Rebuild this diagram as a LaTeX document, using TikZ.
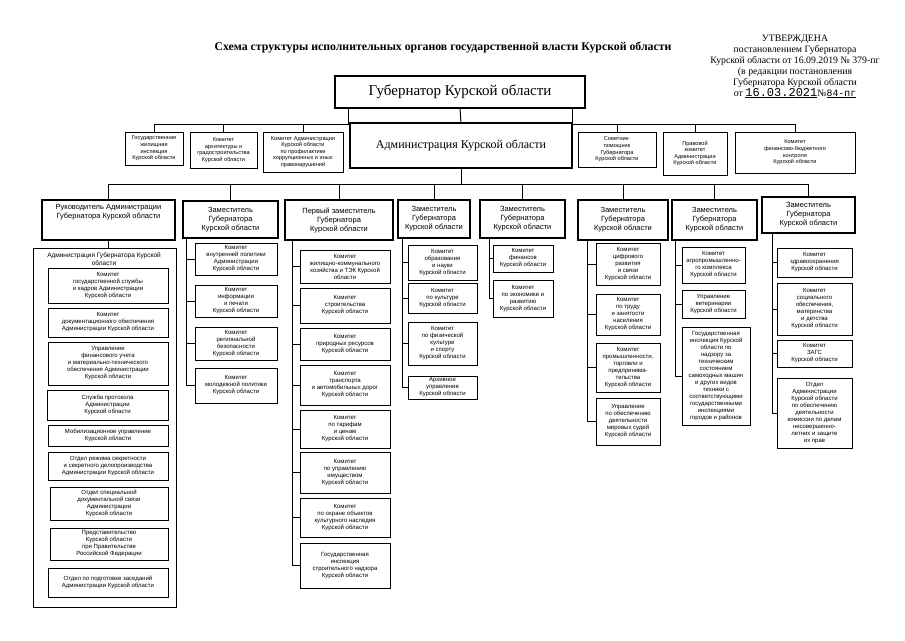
\documentclass[tikz,border=0pt]{standalone}
\usepackage{fontspec}
\setmainfont{Liberation Serif}
\setsansfont{Liberation Sans}
\setmonofont{Liberation Mono}
\tikzset{
  sbox/.style={draw, line width=1pt, align=center, inner sep=1pt,
    font=\sffamily\fontsize{6}{7}\selectfont},
  tbox/.style={draw, line width=1pt, align=center, inner sep=1pt,
    font=\sffamily\fontsize{5.6}{6.6}\selectfont},
  hbox/.style={draw, line width=1.1pt, align=center, inner sep=1pt,
    font=\sffamily\fontsize{7.5}{9}\selectfont},
  bigbox/.style={draw, line width=1.2pt, align=center, inner sep=1pt},
  outbox/.style={draw, line width=1pt},
  conn/.style={line width=1pt},
}
\newcommand\obox[7][sbox]{\node[#1, minimum width={(#5-#3)*1pt}, minimum height={(#6-#4)*1pt}] (#2) at ({(#3+#5)/2},{(#4+#6)/2}) {#7};}
\begin{document}
\begin{tikzpicture}[x=1pt,y=-1pt]
\useasboundingbox[fill=white] (0,0) rectangle (905,640);
% title and stamp
\node[font=\bfseries\fontsize{11.8}{13}\selectfont] (title) at (443,48) {Схема структуры исполнительных органов государственной власти Курской области};
\node[font=\fontsize{9.8}{11}\selectfont, align=center, anchor=north] (stamp) at (795,31) {УТВЕРЖДЕНА\\постановлением Губернатора\\Курской области от 16.09.2019 № 379-пг\\(в редакции постановления\\Губернатора Курской области\\от \underline{\ttfamily\fontsize{12}{12}\selectfont 16.03.2021}№\underline{\ttfamily 84-пг}};
% governor and administration
\obox[bigbox]{gov}{335}{76}{585}{108}{\fontsize{15}{17}\selectfont Губернатор Курской области}
\obox[bigbox]{adm}{350}{123}{572}{168}{\fontsize{12}{14}\selectfont Администрация Курской области}
% top small boxes
\obox[tbox]{a1}{125}{132}{183}{165}{Государственная\\жилищная\\инспекция\\Курской области}
\obox[tbox]{a2}{190}{132}{257}{168}{Комитет\\архитектуры и\\градостроительства\\Курской области}
\obox[tbox]{a3}{263}{132}{343}{172}{Комитет Администрации\\Курской области\\по профилактике\\коррупционных и иных\\правонарушений}
\obox[tbox]{b1}{578}{132}{656}{167}{Советник-\\помощник\\Губернатора\\Курской области}
\obox[tbox]{b2}{663}{132}{727}{175}{Правовой\\комитет\\Администрации\\Курской области}
\obox[tbox]{b3}{735}{132}{855}{173}{Комитет\\финансово-бюджетного\\контроля\\Курской области}
\coordinate (busL) at (348,124);
\coordinate (busR) at (572,124);
\draw[conn] (gov.south -| busL) -- (busL) -- (busL -| a1.north) -- (a1.north);
\draw[conn] (busL -| a2.north) -- (a2.north);
\draw[conn] (busL -| a3.north) -- (a3.north);
\draw[conn] (gov.south -| busR) -- (busR) -- (busR -| b3.north) -- (b3.north);
\draw[conn] (busR -| b1.north) -- (b1.north);
\draw[conn] (busR -| b2.north) -- (b2.north);
\draw[conn] (gov.south) -- (adm.north);
% deputies
\obox[hbox]{h1}{42}{200}{175}{240}{Руководитель Администрации\\Губернатора Курской области\\[9pt]}
\obox[hbox]{h2}{183}{201}{278}{238}{Заместитель\\Губернатора\\Курской области}
\obox[hbox]{h3}{285}{200}{393}{240}{Первый заместитель\\Губернатора\\Курской области}
\obox[hbox]{h4}{398}{200}{470}{238}{Заместитель\\Губернатора\\Курской области}
\obox[hbox]{h5}{480}{200}{565}{238}{Заместитель\\Губернатора\\Курской области}
\obox[hbox]{h6}{578}{200}{668}{240}{Заместитель\\Губернатора\\Курской области}
\obox[hbox]{h7}{672}{200}{757}{240}{Заместитель\\Губернатора\\Курской области}
\obox[hbox]{h8}{762}{197}{855}{233}{Заместитель\\Губернатора\\Курской области}
\coordinate (bus2) at (460,184);
\draw[conn] (adm.south) -- (adm.south |- bus2);
\draw[conn] (h1.north |- bus2) -- (h8.north |- bus2);
\foreach \h in {h1,h2,h3,h4,h5,h6,h7,h8} {\draw[conn] (\h.north |- bus2) -- (\h.north);}
% column 1
\obox[outbox]{out1}{33}{248}{176}{607}{}
\node[font=\sffamily\fontsize{6.5}{7.5}\selectfont, align=center] (t1) at (104,259) {Администрация Губернатора Курской\\области};
\draw[conn] (h1.south) -- (h1.south |- out1.north);
\obox{p1}{48}{268}{168}{303}{Комитет\\государственной службы\\и кадров Администрации\\Курской области}
\obox{p2}{48}{308}{168}{337}{Комитет\\документационного обеспечения\\Администрации Курской области}
\obox{p3}{48}{342}{168}{385}{Управление\\финансового учета\\и материально-технического\\обеспечения Администрации\\Курской области}
\obox{p4}{47}{390}{168}{420}{Служба протокола\\Администрации\\Курской области}
\obox{p5}{48}{425}{168}{446}{Мобилизационное управление\\Курской области}
\obox{p6}{48}{452}{168}{480}{Отдел режима секретности\\и секретного делопроизводства\\Администрации Курской области}
\obox{p7}{50}{487}{168}{520}{Отдел специальной\\документальной связи\\Администрации\\Курской области}
\obox{p8}{50}{528}{168}{560}{Представительство\\Курской области\\при Правительстве\\Российской Федерации}
\obox{p9}{48}{568}{168}{597}{Отдел по подготовке заседаний\\Администрации Курской области}
% column 2
\obox{c1}{195}{243}{277}{275}{Комитет\\внутренней политики\\Администрации\\Курской области}
\obox{c2}{195}{285}{277}{317}{Комитет\\информации\\и печати\\Курской области}
\obox{c3}{195}{327}{277}{360}{Комитет\\региональной\\безопасности\\Курской области}
\obox{c4}{195}{368}{277}{403}{Комитет\\молодежной политики\\Курской области}
\coordinate (s2) at (186,0);
\draw[conn] (h2.south -| s2) -- (c4.west -| s2);
\foreach \b in {c1,c2,c3,c4} {\draw[conn] (\b.west -| s2) -- (\b.west);}
% column 3
\obox{d1}{300}{250}{390}{283}{Комитет\\жилищно-коммунального\\хозяйства и ТЭК Курской\\области}
\obox{d2}{300}{288}{390}{323}{Комитет\\строительства\\Курской области}
\obox{d3}{300}{328}{390}{360}{Комитет\\природных ресурсов\\Курской области}
\obox{d4}{300}{365}{390}{405}{Комитет\\транспорта\\и автомобильных дорог\\Курской области}
\obox{d5}{300}{410}{390}{448}{Комитет\\по тарифам\\и ценам\\Курской области}
\obox{d6}{300}{452}{390}{493}{Комитет\\по управлению\\имуществом\\Курской области}
\obox{d7}{300}{498}{390}{537}{Комитет\\по охране объектов\\культурного наследия\\Курской области}
\obox{d8}{300}{543}{390}{588}{Государственная\\инспекция\\строительного надзора\\Курской области}
\coordinate (s3) at (292,0);
\draw[conn] (h3.south -| s3) -- (d8.west -| s3);
\foreach \b in {d1,d2,d3,d4,d5,d6,d7,d8} {\draw[conn] (\b.west -| s3) -- (\b.west);}
% column 4
\obox{e1}{408}{245}{477}{280}{Комитет\\образования\\и науки\\Курской области}
\obox{e2}{408}{283}{477}{313}{Комитет\\по культуре\\Курской области}
\obox{e3}{408}{322}{477}{365}{Комитет\\по физической\\культуре\\и спорту\\Курской области}
\obox{e4}{408}{376}{477}{399}{Архивное\\управление\\Курской области}
\coordinate (s4) at (402,0);
\draw[conn] (h4.south -| s4) -- (e4.west -| s4);
\foreach \b in {e1,e2,e3,e4} {\draw[conn] (\b.west -| s4) -- (\b.west);}
% column 5
\obox{f1}{493}{245}{553}{272}{Комитет\\финансов\\Курской области}
\obox{f2}{493}{280}{553}{317}{Комитет\\по экономике и\\развитию\\Курской области}
\coordinate (s5) at (489,0);
\draw[conn] (h5.south -| s5) -- (f2.west -| s5);
\foreach \b in {f1,f2} {\draw[conn] (\b.west -| s5) -- (\b.west);}
% column 6
\obox{g1}{596}{243}{660}{285}{Комитет\\цифрового\\развития\\и связи\\Курской области}
\obox{g2}{596}{294}{660}{335}{Комитет\\по труду\\и занятости\\населения\\Курской области}
\obox{g3}{596}{343}{660}{392}{Комитет\\промышленности,\\торговли и\\предпринима-\\тельства\\Курской области}
\obox{g4}{596}{398}{660}{445}{Управление\\по обеспечению\\деятельности\\мировых судей\\Курской области}
\coordinate (s6) at (587,0);
\draw[conn] (h6.south -| s6) -- (g4.west -| s6);
\foreach \b in {g1,g2,g3,g4} {\draw[conn] (\b.west -| s6) -- (\b.west);}
% column 7
\obox{k1}{682}{247}{745}{283}{Комитет\\агропромышленно-\\го комплекса\\Курской области}
\obox{k2}{682}{290}{745}{318}{Управление\\ветеринарии\\Курской области}
\obox{k3}{682}{327}{750}{425}{Государственная\\инспекция Курской\\области  по\\надзору за\\техническим\\состоянием\\самоходных машин\\и других видов\\техники с\\соответствующими\\государственными\\инспекциями\\городов и районов}
\coordinate (s7) at (675,0);
\draw[conn] (h7.south -| s7) -- (k3.west -| s7);
\foreach \b in {k1,k2,k3} {\draw[conn] (\b.west -| s7) -- (\b.west);}
% column 8
\obox{m1}{777}{248}{852}{277}{Комитет\\здравоохранения\\Курской области}
\obox{m2}{777}{283}{852}{335}{Комитет\\социального\\обеспечения,\\материнства\\и детства\\Курской области}
\obox{m3}{777}{340}{852}{367}{Комитет\\ЗАГС\\Курской области}
\obox{m4}{777}{378}{852}{448}{Отдел\\Администрации\\Курской области\\по обеспечению\\деятельности\\комиссии по делам\\несовершенно-\\летних и защите\\их прав}
\coordinate (s8) at (772,0);
\draw[conn] (h8.south -| s8) -- (m4.west -| s8);
\foreach \b in {m1,m2,m3,m4} {\draw[conn] (\b.west -| s8) -- (\b.west);}
\end{tikzpicture}
\end{document}
